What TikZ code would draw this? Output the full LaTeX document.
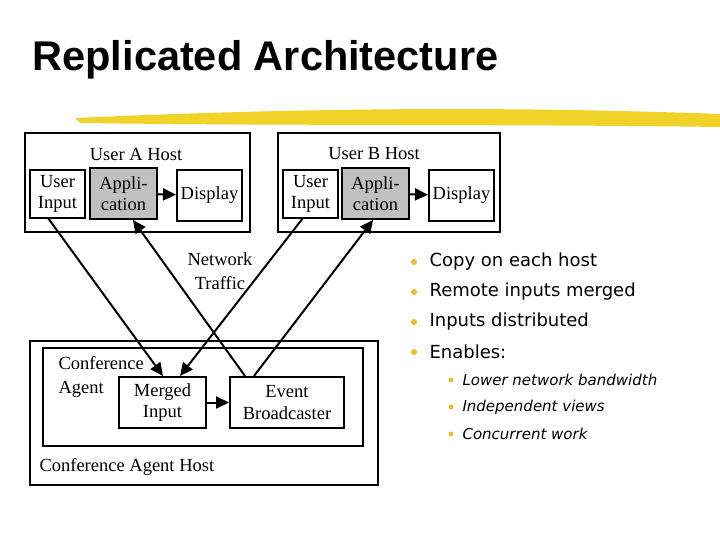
\documentclass[tikz,border=0pt]{standalone}
\usepackage{fontspec}
\setmainfont{Liberation Serif}
\newfontfamily\bulletfont{DejaVu Sans}
\newfontfamily\titlefont{Liberation Sans}
\usetikzlibrary{arrows.meta}
\definecolor{hilite}{RGB}{240,210,40}
\definecolor{boxgray}{RGB}{192,192,192}
\definecolor{dotc}{RGB}{230,190,60}
\begin{document}
\begin{tikzpicture}[x=1pt,y=-1pt,
  host/.style={draw,line width=2pt},
  comp/.style={draw,line width=2pt,align=center,inner sep=0pt,font=\fontsize{18.5}{21.5}\selectfont},
  lbl/.style={align=center,font=\fontsize{18.5}{24}\selectfont},
  arr/.style={line width=2pt,-{Triangle[length=13pt,width=12pt]}},
  bul/.style={anchor=west,font=\bulletfont\fontsize{18}{20}\selectfont},
  sub/.style={anchor=west,font=\bulletfont\itshape\fontsize{15}{17}\selectfont},
  dot/.style={circle,fill=dotc,inner sep=0pt,minimum size=6pt}]
\useasboundingbox (0,0) rectangle (720,540);
% title
\node[anchor=west,font=\titlefont\bfseries\fontsize{41.5}{44}\selectfont] (title) at (29,60) {Replicated Architecture};
\fill[hilite] (75,118) .. controls (300,108) and (500,106) .. (720,114) -- (720,127) .. controls (500,124) and (300,126) .. (80,123) -- cycle;
% host A
\draw[host] (25,133) rectangle (250,232);
\node[lbl] (hA) at (136,154) {User A Host};
\node[comp,minimum width=55pt,minimum height=48pt] (uiA) at (57.5,194) {User\\Input};
\node[comp,fill=boxgray,minimum width=67pt,minimum height=51pt] (apA) at (123.5,193.5) {Appli-\\cation};
\node[comp,minimum width=65pt,minimum height=51pt] (dA) at (209.5,195.5) {Display};
\draw[arr] (apA) -- (dA);
% host B
\draw[host] (278,133) rectangle (500,232);
\node[lbl] (hB) at (374,154) {User B Host};
\node[comp,minimum width=55pt,minimum height=48pt] (uiB) at (310.5,194) {User\\Input};
\node[comp,fill=boxgray,minimum width=67pt,minimum height=51pt] (apB) at (375.5,193.5) {Appli-\\cation};
\node[comp,minimum width=65pt,minimum height=51pt] (dB) at (461.5,195.5) {Display};
\draw[arr] (apB) -- (dB);
% conference agent host
\draw[host] (30,341) rectangle (378,485);
\draw[host] (43,348) rectangle (363,446);
\node[lbl,anchor=west,align=left] (ca) at (55,377) {Conference\\Agent};
\node[lbl,anchor=west] (cah) at (36,467) {Conference Agent Host};
\node[comp,minimum width=87pt,minimum height=51pt] (mi) at (162.5,402.5) {Merged\\Input};
\node[comp,minimum width=114pt,minimum height=51pt] (eb) at (287,402.5) {Event\\Broadcaster};
\draw[arr] (mi) -- (eb);
% network traffic
\node[lbl] (nt) at (220,271) {Network\\Traffic};
\coordinate (s1) at (48,218);
\coordinate (s2) at (303,218);
\draw[arr] (s1) -- (mi.north -| 163,0);
\draw[arr] (s2) -- (mi.north -| 180,0);
\draw[arr] (eb.north -| 245,0) -- (apA.south -| 133,0);
\draw[arr] (eb.north -| 254,0) -- (apB.south -| 373,0);
% bullets
\foreach \y/\t [count=\i] in {262/Copy on each host,292/Remote inputs merged,322/Inputs distributed,352/Enables:}{
  \node[dot] (d\i) at (414,\y) {};
  \node[bul] (b\i) at (426,\y) {\t};
}
\foreach \y/\t [count=\i] in {380/Lower network bandwidth,407/Independent views,434/Concurrent work}{
  \node[dot,minimum size=5pt] (e\i) at (451,\y) {};
  \node[sub] (s\i) at (459,\y) {\t};
}
\end{tikzpicture}
\end{document}
